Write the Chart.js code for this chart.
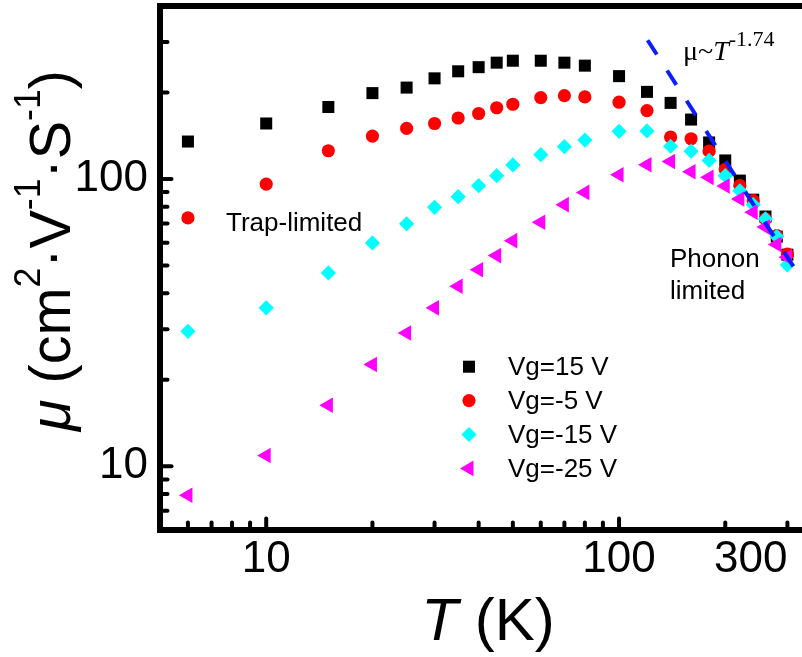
<!DOCTYPE html>
<html>
<head>
<meta charset="utf-8">
<script src="https://cdn.jsdelivr.net/npm/chart.js@4/dist/chart.umd.min.js"></script>
<style>
html,body{margin:0;padding:0;background:#fff;overflow:hidden}
canvas{display:block}
</style>
</head>
<body>
<canvas id="c" width="802" height="657"></canvas>
<script>
// ---------- data ----------
const temperatureK = [6, 10, 15, 20, 25, 30, 35, 40, 45, 50, 60, 70, 80, 100, 120, 140, 160, 180, 200, 220, 240, 260, 280, 300];
const muVg15   = [135, 156, 178, 199, 208, 224, 237, 245, 254, 258, 258, 254, 248, 228, 201, 184, 161, 134, 116, 98.7, 84.7, 74, 63, 54.5];
const muVgM5   = [73.2, 96, 125.4, 141, 150, 156, 163, 169, 177, 182, 192, 195, 193, 185, 173, 140, 138, 125, 108, 94.8, 84, 72.6, 63.5, 54.8];
const muVgM15  = [29.5, 35.6, 47.1, 59.9, 69.8, 79.7, 86.8, 94.8, 102.7, 111.9, 121.5, 129.5, 136.6, 146.5, 147, 130, 125, 116, 102.7, 91, 81.4, 72.6, 63, 50.2];
const muVgM25  = [7.93, 10.9, 16.3, 22.6, 29.1, 35.6, 42.3, 48.3, 54.1, 61, 70.7, 81.4, 89.8, 103.5, 112, 115, 106, 101.3, 94.5, 85.2, 76.6, 68, 59.2, 53.4];
const seriesLabels = ['Vg=15 V', 'Vg=-5 V', 'Vg=-15 V', 'Vg=-25 V'];
const fitT  = [120.5, 313];
const fitMu = [304, 49.3];
const xTickValues = [6, 7, 8, 9, 10, 20, 30, 40, 50, 60, 70, 80, 90, 100, 200, 300];
const xTickLabels = [10, 100, 300];
const xMajorTicks = [10, 100];
const yTickValues = [7, 8, 9, 10, 20, 30, 40, 50, 60, 70, 80, 90, 100, 200, 300];
const yTickLabels = [10, 100];
const yMajorTicks = [10, 100];

// ---------- styling ----------
const SANS = "'Liberation Sans', Arial, Helvetica, sans-serif";
const SERIF = "'Liberation Serif', 'Times New Roman', serif";
const styles = [
  {color: '#000000', pointStyle: 'rect',    radius: 8.5, rotation: 0},
  {color: '#ff0000', pointStyle: 'circle',  radius: 6.6, rotation: 0},
  {color: '#00ffff', pointStyle: 'rectRot', radius: 7.6, rotation: 0},
  {color: '#ff00ff', pointStyle: 'triangle', radius: 9, rotation: -90}
];
const seriesValues = [muVg15, muVgM5, muVgM15, muVgM25];

function toPoints(xs, ys) { return xs.map((x, i) => ({x: x, y: ys[i]})); }

const datasets = [{
  label: 'fit',
  data: toPoints(fitT, fitMu),
  showLine: true,
  borderColor: '#0a1eff',
  borderWidth: 4,
  borderDash: [17, 19],
  pointRadius: 0,
  fill: false,
  order: 0
}];
seriesValues.forEach((vals, i) => {
  datasets.push({
    label: seriesLabels[i],
    data: toPoints(temperatureK, vals),
    showLine: false,
    pointStyle: styles[i].pointStyle,
    pointRadius: styles[i].radius,
    pointRotation: styles[i].rotation,
    pointBackgroundColor: styles[i].color,
    pointBorderColor: styles[i].color,
    pointBorderWidth: 0,
    backgroundColor: styles[i].color,
    borderColor: styles[i].color,
    order: 4 - i
  });
});

function drawRich(ctx, segs, x, y) {
  segs.forEach(s => {
    ctx.font = s.font;
    ctx.fillText(s.t, x, y - (s.rise || 0));
    x += ctx.measureText(s.t).width;
  });
  return x;
}
function richWidth(ctx, segs) {
  let w = 0;
  segs.forEach(s => { ctx.font = s.font; w += ctx.measureText(s.t).width; });
  return w;
}

const framePlugin = {
  id: 'frame',
  afterDraw(chart) {
    const ctx = chart.ctx;
    const a = chart.chartArea;
    const xs = chart.scales.x, ys = chart.scales.y;
    ctx.save();
    ctx.strokeStyle = '#000';
    ctx.fillStyle = '#000';
    // inward tick marks
    ctx.lineWidth = 4;
    ctx.lineCap = 'round';
    xTickValues.forEach(v => {
      const px = xs.getPixelForValue(v);
      const len = xMajorTicks.includes(v) ? 11.5 : 7.5;
      ctx.beginPath(); ctx.moveTo(px, a.bottom); ctx.lineTo(px, a.bottom - len); ctx.stroke();
    });
    yTickValues.forEach(v => {
      const py = ys.getPixelForValue(v);
      const len = yMajorTicks.includes(v) ? 11.5 : 7.5;
      ctx.beginPath(); ctx.moveTo(a.left, py); ctx.lineTo(a.left + len, py); ctx.stroke();
    });
    // frame: top, left, bottom
    ctx.lineWidth = 6;
    ctx.lineCap = 'butt';
    ctx.lineJoin = 'miter';
    ctx.beginPath();
    ctx.moveTo(chart.width, a.top);
    ctx.lineTo(a.left, a.top);
    ctx.lineTo(a.left, a.bottom);
    ctx.lineTo(chart.width, a.bottom);
    ctx.stroke();

    // legend inside the plot
    const lx = 469, ly0 = 366.7, dy = 33.9;
    seriesLabels.forEach((lab, i) => {
      const y = ly0 + i * dy;
      ctx.fillStyle = styles[i].color;
      ctx.strokeStyle = styles[i].color;
      Chart.helpers.drawPoint(ctx, {pointStyle: styles[i].pointStyle, radius: styles[i].radius, rotation: styles[i].rotation, borderWidth: 0}, lx, y);
      ctx.fillStyle = '#000';
      ctx.font = '26px ' + SANS;
      ctx.textBaseline = 'middle';
      ctx.textAlign = 'left';
      ctx.fillText(lab, 508, y + 1);
    });

    // annotations
    ctx.fillStyle = '#000';
    ctx.textBaseline = 'alphabetic';
    ctx.textAlign = 'left';
    ctx.font = '26px ' + SANS;
    ctx.fillText('Trap-limited', 226, 231);
    ctx.fillText('Phonon', 670, 267);
    ctx.fillText('limited', 670, 299);
    drawRich(ctx, [
      {t: 'μ~', font: '28px ' + SERIF},
      {t: 'T', font: 'italic 28px ' + SERIF},
      {t: '-1.74', font: '22px ' + SERIF, rise: 14}
    ], 683, 60);

    // x axis title
    const xt = [
      {t: 'T', font: 'italic 60px ' + SANS},
      {t: ' (K)', font: '60px ' + SANS}
    ];
    const xw = richWidth(ctx, xt);
    drawRich(ctx, xt, 488 - xw / 2, 640);

    // y axis title (rotated)
    const sup = '36px ' + SANS, big = '58px ' + SANS;
    const yt = [
      {t: 'μ', font: 'italic 58px ' + SANS},
      {t: ' (cm', font: big},
      {t: '2', font: sup, rise: 30},
      {t: '·V', font: big},
      {t: '-1', font: sup, rise: 30},
      {t: '·S', font: big},
      {t: '-1', font: sup, rise: 30},
      {t: ')', font: big}
    ];
    const yw = richWidth(ctx, yt);
    const sc = Math.min(1, 361 / yw);
    ctx.translate(70, 431);
    ctx.rotate(-Math.PI / 2);
    ctx.scale(sc, 1);
    drawRich(ctx, yt, 0, 0);
    ctx.restore();
  }
};

new Chart(document.getElementById('c'), {
  type: 'scatter',
  data: {datasets: datasets},
  options: {
    responsive: false,
    animation: false,
    devicePixelRatio: 1,
    layout: {autoPadding: false, padding: {top: 6, left: 0, right: 0, bottom: 0}},
    plugins: {legend: {display: false}, tooltip: {enabled: false}, title: {display: false}},
    scales: {
      x: {
        type: 'logarithmic',
        min: 5, max: 330,
        grid: {display: false, drawTicks: false},
        border: {display: false},
        afterBuildTicks: s => { s.ticks = xTickValues.map(v => ({value: v})); },
        afterFit: s => { s.height = 127; s.paddingLeft = 0; s.paddingRight = 0; },
        ticks: {
          autoSkip: false, maxRotation: 0, minRotation: 0, align: 'inner', padding: 3,
          color: '#000', font: {family: SANS, size: 44},
          callback: v => xTickLabels.includes(v) ? String(v) : ''
        }
      },
      y: {
        type: 'logarithmic',
        min: 6, max: 400,
        grid: {display: false, drawTicks: false},
        border: {display: false},
        afterBuildTicks: s => { s.ticks = yTickValues.map(v => ({value: v})); },
        afterFit: s => { s.width = 160; s.paddingTop = 0; s.paddingBottom = 0; },
        ticks: {
          autoSkip: false, padding: 12,
          color: '#000', font: {family: SANS, size: 44},
          callback: v => yTickLabels.includes(v) ? String(v) : ''
        }
      }
    }
  },
  plugins: [framePlugin]
});
</script>
</body>
</html>
